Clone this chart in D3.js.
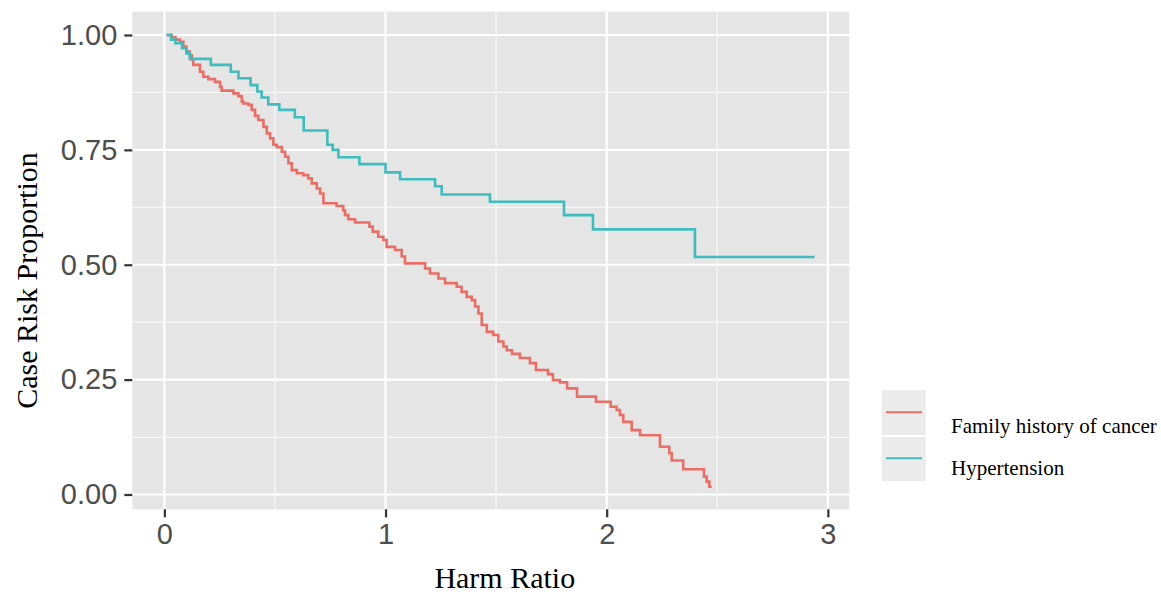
<!DOCTYPE html>
<html>
<head>
<meta charset="utf-8">
<script src="https://cdn.jsdelivr.net/npm/d3@7"></script>
<style>
  html, body { margin: 0; padding: 0; background: #ffffff; }
  svg { display: block; }
</style>
</head>
<body>
<svg id="chart" width="1161" height="594"></svg>
<script>
// ---- data ----
const seriesNames = ["Family history of cancer", "Hypertension"];

// Hypertension step curve: harm ratio where the step happens, proportion after it
const hypX = [0.01, 0.03, 0.05, 0.08, 0.10, 0.115, 0.21, 0.30, 0.335, 0.39, 0.42, 0.44, 0.47, 0.52, 0.59, 0.63, 0.737, 0.761, 0.787, 0.882, 1.00, 1.066, 1.224, 1.254, 1.472, 1.807, 1.938, 2.399, 2.94];
const hypY = [1.000, 0.990, 0.982, 0.971, 0.960, 0.948, 0.935, 0.920, 0.906, 0.891, 0.877, 0.864, 0.849, 0.837, 0.821, 0.792, 0.761, 0.750, 0.734, 0.719, 0.701, 0.686, 0.671, 0.653, 0.637, 0.608, 0.577, 0.517, 0.517];

// Family history of cancer step curve
const famX = [0.01, 0.033, 0.05, 0.07, 0.086, 0.10, 0.115, 0.124, 0.131, 0.161, 0.176, 0.199, 0.229, 0.252, 0.259, 0.312, 0.335, 0.35, 0.357, 0.380, 0.395, 0.410, 0.425, 0.448, 0.463, 0.478, 0.493, 0.508, 0.531, 0.546, 0.561, 0.576, 0.599, 0.628, 0.651, 0.666, 0.689, 0.704, 0.719, 0.779, 0.809, 0.817, 0.832, 0.862, 0.927, 0.942, 0.967, 0.990, 1.005, 1.043, 1.073, 1.088, 1.179, 1.201, 1.239, 1.269, 1.322, 1.344, 1.367, 1.390, 1.405, 1.420, 1.435, 1.458, 1.487, 1.510, 1.533, 1.548, 1.572, 1.608, 1.653, 1.680, 1.735, 1.757, 1.789, 1.821, 1.866, 1.952, 2.018, 2.045, 2.060, 2.075, 2.113, 2.151, 2.241, 2.283, 2.294, 2.346, 2.440, 2.452, 2.464, 2.475];
const famY = [1.000, 0.995, 0.990, 0.985, 0.975, 0.964, 0.956, 0.946, 0.935, 0.920, 0.909, 0.904, 0.898, 0.887, 0.879, 0.873, 0.867, 0.855, 0.851, 0.848, 0.837, 0.824, 0.815, 0.800, 0.786, 0.775, 0.761, 0.756, 0.746, 0.735, 0.721, 0.706, 0.699, 0.695, 0.688, 0.677, 0.666, 0.655, 0.634, 0.628, 0.618, 0.608, 0.599, 0.592, 0.583, 0.572, 0.561, 0.554, 0.539, 0.532, 0.518, 0.503, 0.492, 0.481, 0.470, 0.460, 0.452, 0.441, 0.430, 0.423, 0.409, 0.394, 0.369, 0.354, 0.347, 0.333, 0.322, 0.314, 0.306, 0.297, 0.286, 0.271, 0.262, 0.249, 0.244, 0.231, 0.213, 0.202, 0.191, 0.184, 0.173, 0.158, 0.140, 0.129, 0.104, 0.090, 0.074, 0.055, 0.039, 0.028, 0.017, 0.017];

const xTicks = [0, 1, 2, 3];
const xMinor = [0.5, 1.5, 2.5];
const yTicks = [0, 0.25, 0.5, 0.75, 1.0];
const yMinor = [0.125, 0.375, 0.625, 0.875];
const colors = ["#ec6d66", "#3fbcbd"];

// ---- layout ----
const svg = d3.select("#chart");
const P = { left: 132.3, right: 849.3, top: 11.7, bottom: 509.3 };

const x = d3.scaleLinear().domain([-0.145, 3.097]).range([P.left, P.right]);
const y = d3.scaleLinear().domain([-0.0322, 1.0507]).range([P.bottom, P.top]);

// panel
svg.append("rect")
  .attr("x", P.left).attr("y", P.top)
  .attr("width", P.right - P.left).attr("height", P.bottom - P.top)
  .attr("fill", "#e5e5e5");

const grid = svg.append("g");
grid.selectAll(".vmin").data(xMinor).join("line")
  .attr("x1", d => x(d)).attr("x2", d => x(d))
  .attr("y1", P.top).attr("y2", P.bottom)
  .attr("stroke", "#f7f7f7").attr("stroke-width", 1.2);
grid.selectAll(".hmin").data(yMinor).join("line")
  .attr("y1", d => y(d)).attr("y2", d => y(d))
  .attr("x1", P.left).attr("x2", P.right)
  .attr("stroke", "#f7f7f7").attr("stroke-width", 1.2);
grid.selectAll(".vmaj").data(xTicks).join("line")
  .attr("x1", d => x(d)).attr("x2", d => x(d))
  .attr("y1", P.top).attr("y2", P.bottom)
  .attr("stroke", "#ffffff").attr("stroke-width", 2.2);
grid.selectAll(".hmaj").data(yTicks).join("line")
  .attr("y1", d => y(d)).attr("y2", d => y(d))
  .attr("x1", P.left).attr("x2", P.right)
  .attr("stroke", "#ffffff").attr("stroke-width", 2.2);

// axes
const xAxis = d3.axisBottom(x).tickValues(xTicks).tickFormat(d3.format("d")).tickSize(8).tickPadding(6);
const yAxis = d3.axisLeft(y).tickValues(yTicks).tickFormat(d3.format(".2f")).tickSize(8).tickPadding(7);

const gx = svg.append("g").attr("transform", `translate(0,${P.bottom})`).call(xAxis);
const gy = svg.append("g").attr("transform", `translate(${P.left},0)`).call(yAxis);
[gx, gy].forEach(g => {
  g.select(".domain").remove();
  g.selectAll(".tick line").attr("stroke", "#333333").attr("stroke-width", 2.2);
  g.selectAll(".tick text")
    .attr("fill", "#4d4d4d")
    .style("font-family", "'Liberation Sans', Arial, sans-serif")
    .style("font-size", "29px");
});

// curves
const line = d3.line().x(d => x(d[0])).y(d => y(d[1])).curve(d3.curveStepAfter);
const series = [d3.zip(famX, famY), d3.zip(hypX, hypY)];
svg.append("g").selectAll("path").data(series).join("path")
  .attr("d", line)
  .attr("fill", "none")
  .attr("stroke", (d, i) => colors[i])
  .attr("stroke-width", 2.6)
  .attr("stroke-linejoin", "miter");

// axis titles
svg.append("text")
  .attr("x", (P.left + P.right) / 2 + 14).attr("y", 588)
  .attr("text-anchor", "middle")
  .style("font-family", "'Liberation Serif', 'Times New Roman', serif")
  .style("font-size", "30px")
  .attr("fill", "#000")
  .text("Harm Ratio");

svg.append("text")
  .attr("transform", `translate(37,${(P.top + P.bottom) / 2 + 20}) rotate(-90)`)
  .attr("text-anchor", "middle")
  .style("font-family", "'Liberation Serif', 'Times New Roman', serif")
  .style("font-size", "30px")
  .attr("fill", "#000")
  .text("Case Risk Proportion");

// legend
const legend = svg.append("g");
const keyBoxes = [[881.7, 390, 44, 45], [881.7, 437, 44, 44]];
const keyLineY = [412.3, 458.3];
const labelY = [433, 475];
seriesNames.forEach((name, i) => {
  legend.append("rect")
    .attr("x", keyBoxes[i][0]).attr("y", keyBoxes[i][1])
    .attr("width", keyBoxes[i][2]).attr("height", keyBoxes[i][3])
    .attr("fill", "#ebebeb");
  legend.append("line")
    .attr("x1", 886).attr("x2", 922)
    .attr("y1", keyLineY[i]).attr("y2", keyLineY[i])
    .attr("stroke", colors[i]).attr("stroke-width", 2);
  legend.append("text")
    .attr("x", 951).attr("y", labelY[i])
    .style("font-family", "'Liberation Serif', 'Times New Roman', serif")
    .style("font-size", "21px")
    .attr("fill", "#000")
    .text(name);
});
</script>
</body>
</html>
